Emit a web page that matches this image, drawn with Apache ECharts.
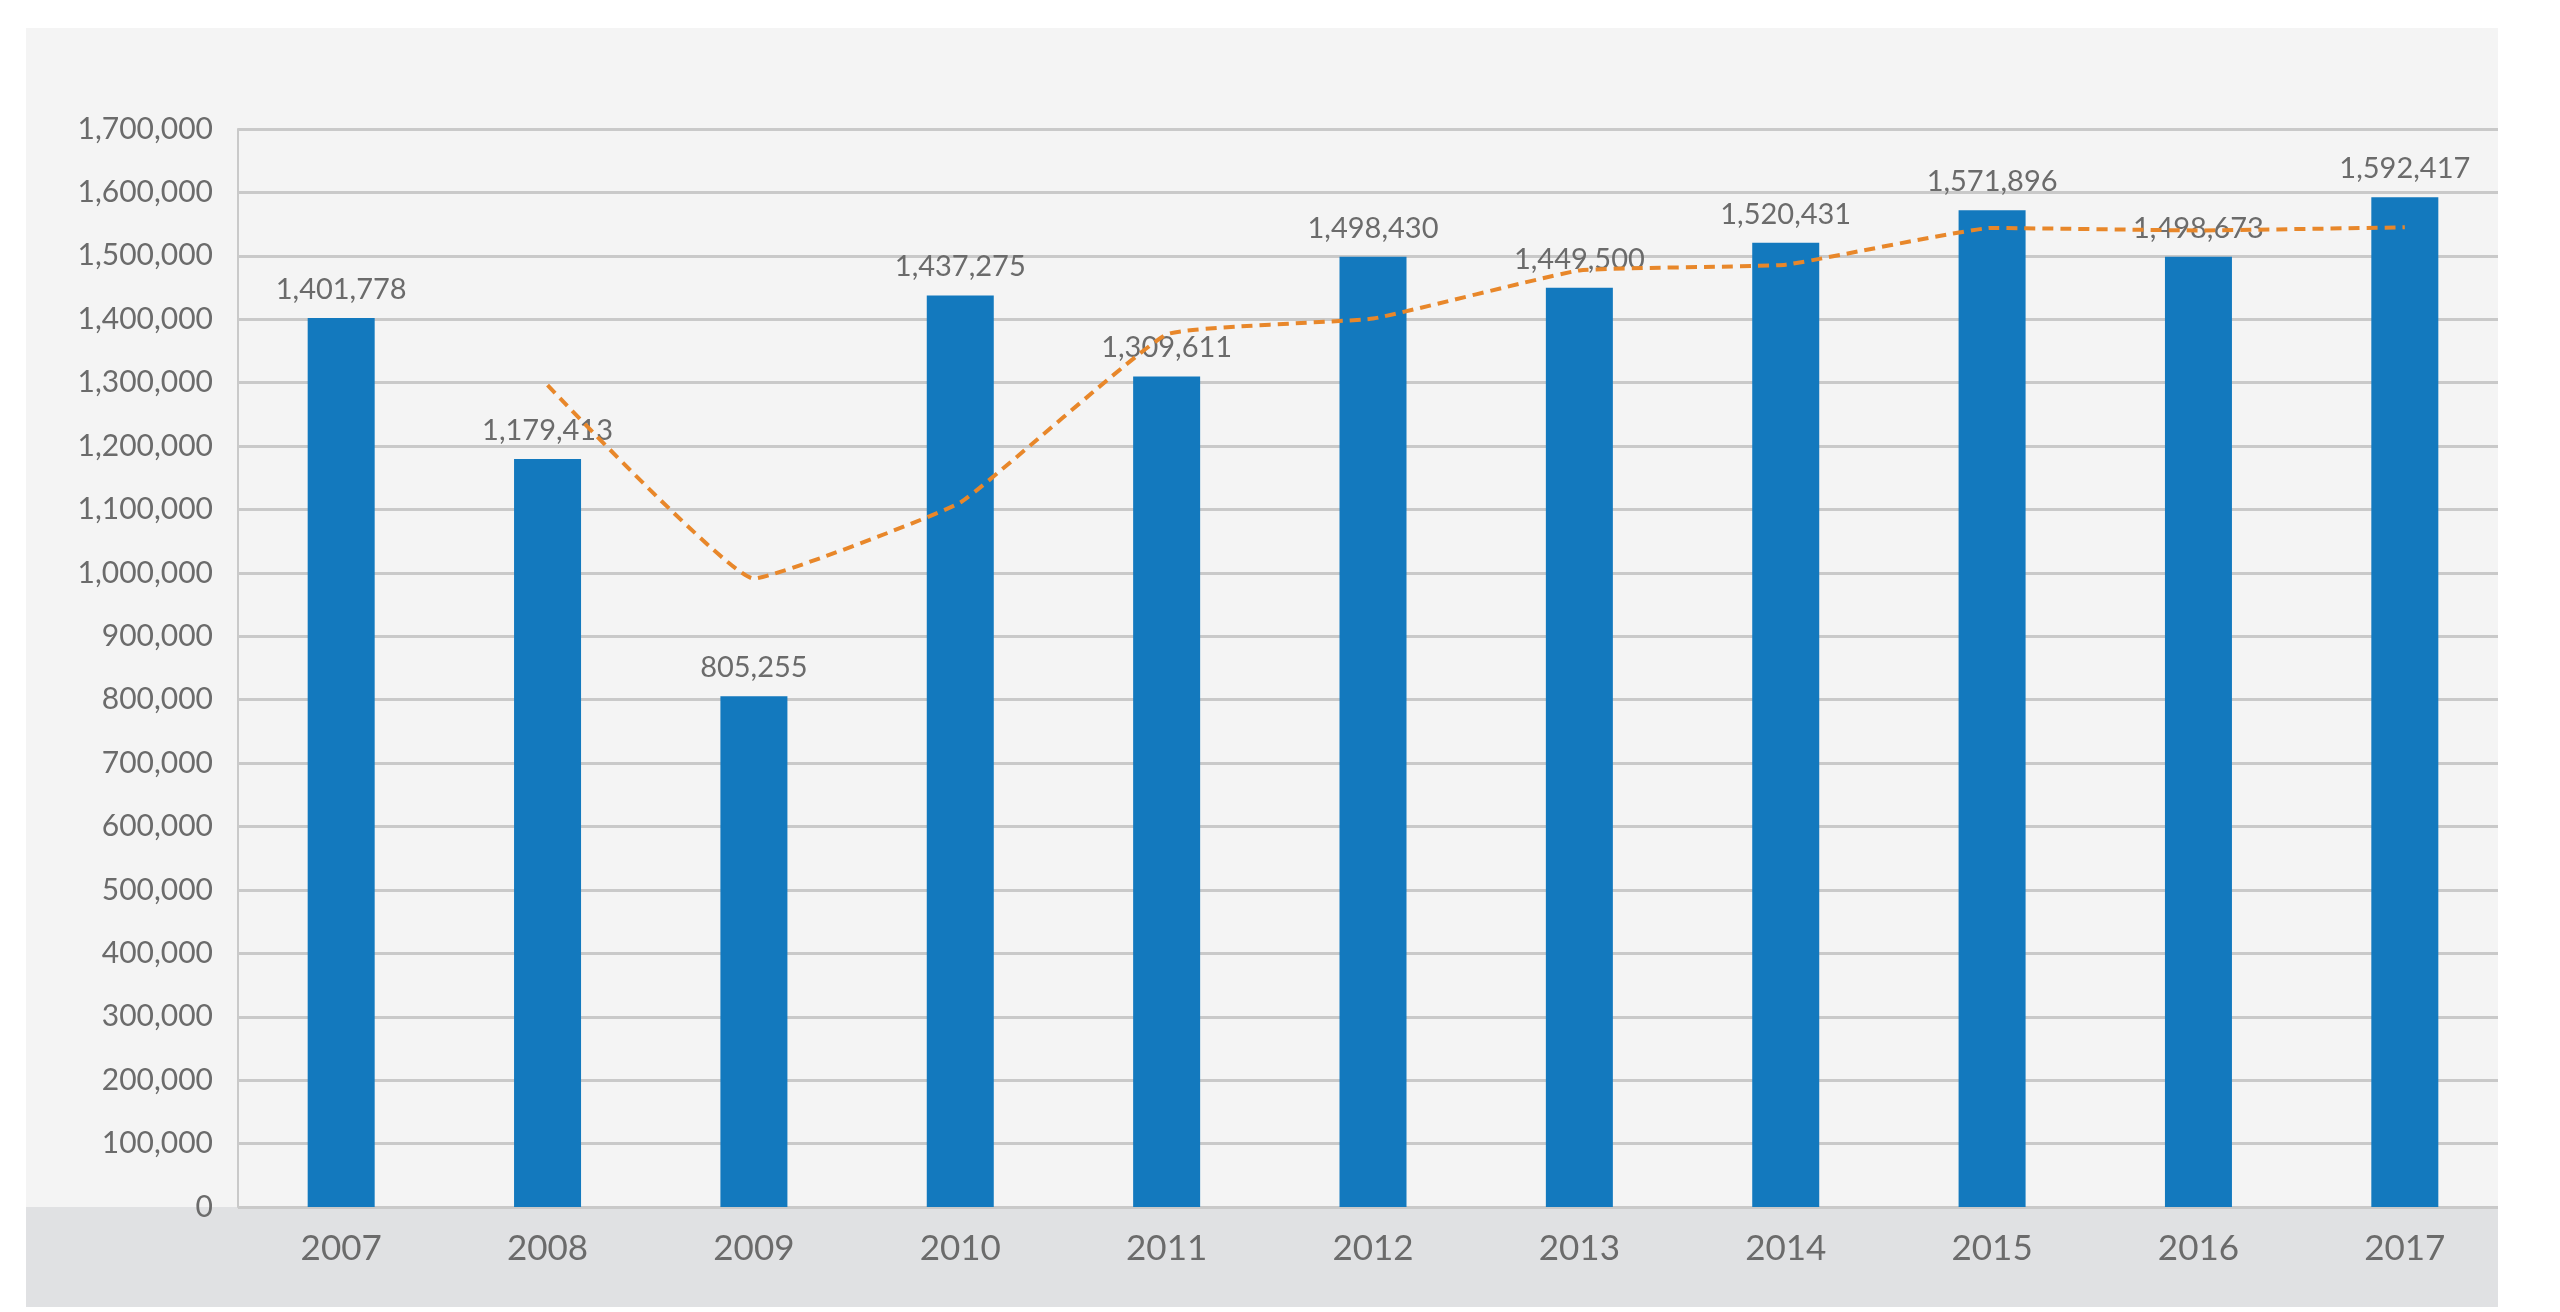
<!DOCTYPE html>
<html>
<head>
    <meta charset="utf-8" />
    <title>2007-2017</title>
    <style type="text/css">
        html, body {
            height: 100%;
            width: 100%;
            margin: 0;
            padding: 0;
            background-color: #ffffff;
            overflow: hidden;
        }

        #charts {
            width: 2560px;
            height: 1312px;
        }
    </style>
</head>
<body>
    <div id="charts"></div>
    <script src="https://cdn.jsdelivr.net/npm/echarts@6/dist/echarts.min.js"></script>
    <script type="text/javascript">
        // categories and values
        var years = ['2007', '2008', '2009', '2010', '2011', '2012', '2013', '2014', '2015', '2016', '2017'];
        var totals = [1401778, 1179413, 805255, 1437275, 1309611, 1498430, 1449500, 1520431, 1571896, 1498673, 1592417];
        // dashed trend line (no point for 2007)
        var trend = [null, 1296000, 991000, 1111000, 1376000, 1401000, 1477000, 1486000, 1544000, 1540000, 1545000];
        var yTicks = { min: 0, max: 1700000, interval: 100000 };

        var textColor = '#6b6b6b';
        var fontName = 'Lato';

        var fmt = function (v) {
            return echarts.format.addCommas(v);
        };

        var ChartOption = {
            backgroundColor: '#ffffff',
            animation: false,
            textStyle: { fontFamily: fontName },
            graphic: [
                {
                    type: 'rect', z: -10, silent: true,
                    shape: { x: 26, y: 28, width: 2472, height: 1279 },
                    style: { fill: '#f4f4f4' }
                },
                {
                    type: 'rect', z: -9, silent: true,
                    shape: { x: 26, y: 1207, width: 2472, height: 100 },
                    style: { fill: '#e0e1e3' }
                },
                {
                    type: 'rect', z: 100, silent: true,
                    shape: { x: 2498, y: 0, width: 62, height: 1312 },
                    style: { fill: '#ffffff' }
                }
            ],
            grid: { left: 238, right: 52, top: 129, bottom: 105, containLabel: false },
            xAxis: {
                type: 'category',
                data: years,
                axisLine: { show: false },
                axisTick: { show: false },
                axisLabel: { color: textColor, fontSize: 35, margin: 24, fontFamily: fontName }
            },
            yAxis: {
                type: 'value',
                min: yTicks.min,
                max: yTicks.max,
                interval: yTicks.interval,
                axisLine: { show: true, lineStyle: { color: '#c9c9c9', width: 2 } },
                axisTick: { show: false },
                axisLabel: {
                    color: textColor, fontSize: 30, margin: 25, fontFamily: fontName,
                    formatter: function (v) { return fmt(v); }
                },
                splitLine: { lineStyle: { color: '#c9c9c9', width: 3 } }
            },
            series: [
                {
                    type: 'bar',
                    data: totals,
                    barWidth: 67,
                    itemStyle: { color: '#1379be' },
                    label: {
                        show: true,
                        position: 'top',
                        distance: 14,
                        color: textColor,
                        fontSize: 29,
                        fontFamily: fontName,
                        formatter: function (p) { return fmt(p.value); }
                    },
                    z: 2
                },
                {
                    type: 'line',
                    data: trend,
                    smooth: 0.1,
                    connectNulls: false,
                    showSymbol: false,
                    symbol: 'none',
                    lineStyle: { color: '#e8872a', width: 4, type: [11, 7] },
                    z: 3
                }
            ]
        };

        var myChart = echarts.init(document.getElementById('charts'), null, { renderer: 'canvas' });
        myChart.setOption(ChartOption, true);
        window.onresize = myChart.resize;
    </script>
</body>
</html>
